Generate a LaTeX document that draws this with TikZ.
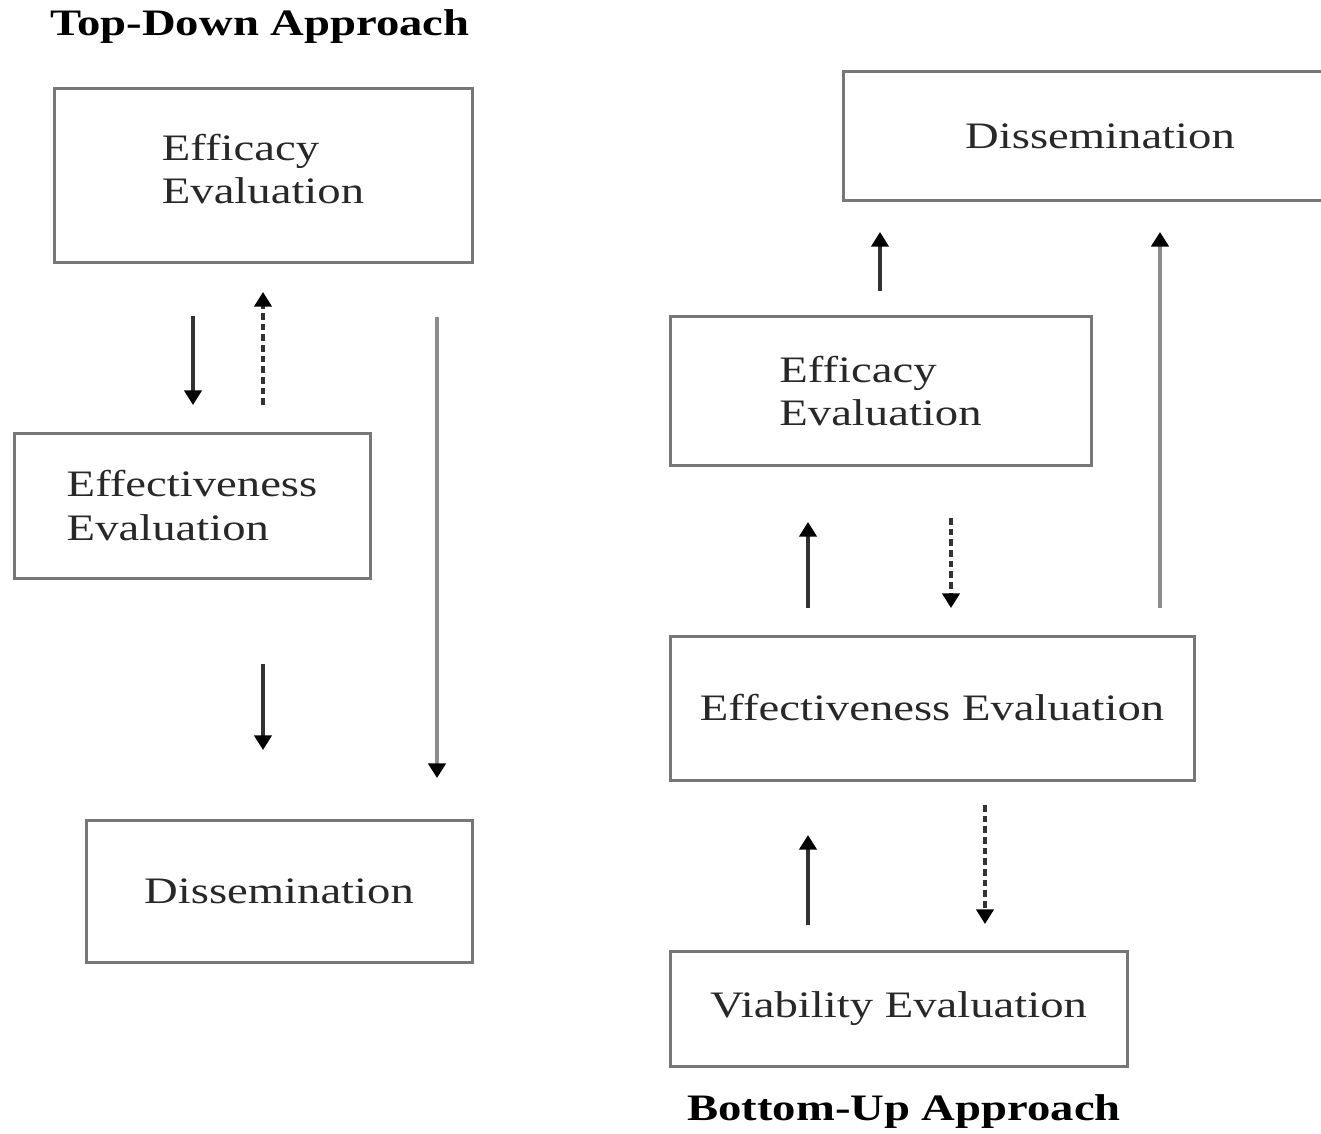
\documentclass[tikz,border=0pt]{standalone}
\usepackage{fontspec}
\setmainfont[FakeStretch=1.25]{Liberation Serif}
\usetikzlibrary{arrows.meta}

\tikzset{every picture/.style={line width=0.75pt}}
\tikzset{
  box/.style={draw={rgb, 255:red, 119; green, 119; blue, 119 }, line width=2.25pt, inner sep=0pt,
    align=left, text={rgb, 255:red, 40; green, 40; blue, 40 }, font=\fontsize{28}{32.5}\selectfont},
  ttl/.style={inner sep=0pt, font=\fontsize{28}{32}\selectfont\bfseries},
  arr/.style={draw={rgb, 255:red, 50; green, 50; blue, 50 }, line width=2.4pt,
    -{Triangle[width=13pt,length=11pt,color=black]}},
  dasharrow/.style={arr, dash pattern={on 5pt off 3pt}},
  longarr/.style={arr, draw={rgb, 255:red, 140; green, 140; blue, 140 }, line width=3.4pt}
}

\begin{document}
\begin{tikzpicture}[x=0.75pt,y=0.75pt,yscale=-1,xscale=1]
\useasboundingbox (0,0) rectangle (1321,1134);

% Titles
\node [ttl] (ttlTD) at (260,27) {Top-Down Approach};
\node [ttl] (ttlBU) at (904,1112) {Bottom-Up Approach};

% Boxes: top-down
\node [box, minimum width=418*0.75pt, minimum height=174*0.75pt, text depth=11pt] (effiTD) at (263,176) {Efficacy\\Evaluation};
\node [box, minimum width=356*0.75pt, minimum height=145*0.75pt] (effeTD) at (192,505.5) {Effectiveness\\Evaluation};
\node [box, minimum width=386*0.75pt, minimum height=142*0.75pt] (dissTD) at (279,891) {Dissemination};

% Boxes: bottom-up
\node [box, minimum width=514*0.75pt, minimum height=129*0.75pt] (dissBU) at (1100,136.5) {Dissemination};
\node [box, minimum width=421*0.75pt, minimum height=148*0.75pt] (effiBU) at (880.5,391) {Efficacy\\Evaluation};
\node [box, minimum width=524*0.75pt, minimum height=144*0.75pt] (effeBU) at (932,708) {Effectiveness Evaluation};
\node [box, minimum width=457*0.75pt, minimum height=115*0.75pt] (viabBU) at (898.5,1008.5) {Viability Evaluation};

% Arrow ends
\coordinate (tdA1) at (193,316);  \coordinate (tdA2) at (193,405);
\coordinate (tdB1) at (263,405);  \coordinate (tdB2) at (263,292);
\coordinate (tdC1) at (263,664);  \coordinate (tdC2) at (263,750);
\coordinate (tdD1) at (437,317);  \coordinate (tdD2) at (437,778);
\coordinate (buA1) at (880,291);  \coordinate (buA2) at (880,232);
\coordinate (buB1) at (1160,608); \coordinate (buB2) at (1160,232);
\coordinate (buC1) at (808,608);  \coordinate (buC2) at (808,522);
\coordinate (buD1) at (951,518);  \coordinate (buD2) at (951,608);
\coordinate (buE1) at (808,925);  \coordinate (buE2) at (808,835);
\coordinate (buF1) at (985,805);  \coordinate (buF2) at (985,924);

% Arrows: top-down
\draw [arr] (tdA1) -- (tdA2);
\draw [dasharrow] (tdB1) -- (tdB2);
\draw [arr] (tdC1) -- (tdC2);
\draw [longarr] (tdD1) -- (tdD2);

% Arrows: bottom-up
\draw [arr] (buA1) -- (buA2);
\draw [longarr] (buB1) -- (buB2);
\draw [arr] (buC1) -- (buC2);
\draw [dasharrow] (buD1) -- (buD2);
\draw [arr] (buE1) -- (buE2);
\draw [dasharrow] (buF1) -- (buF2);

\end{tikzpicture}
\end{document}
